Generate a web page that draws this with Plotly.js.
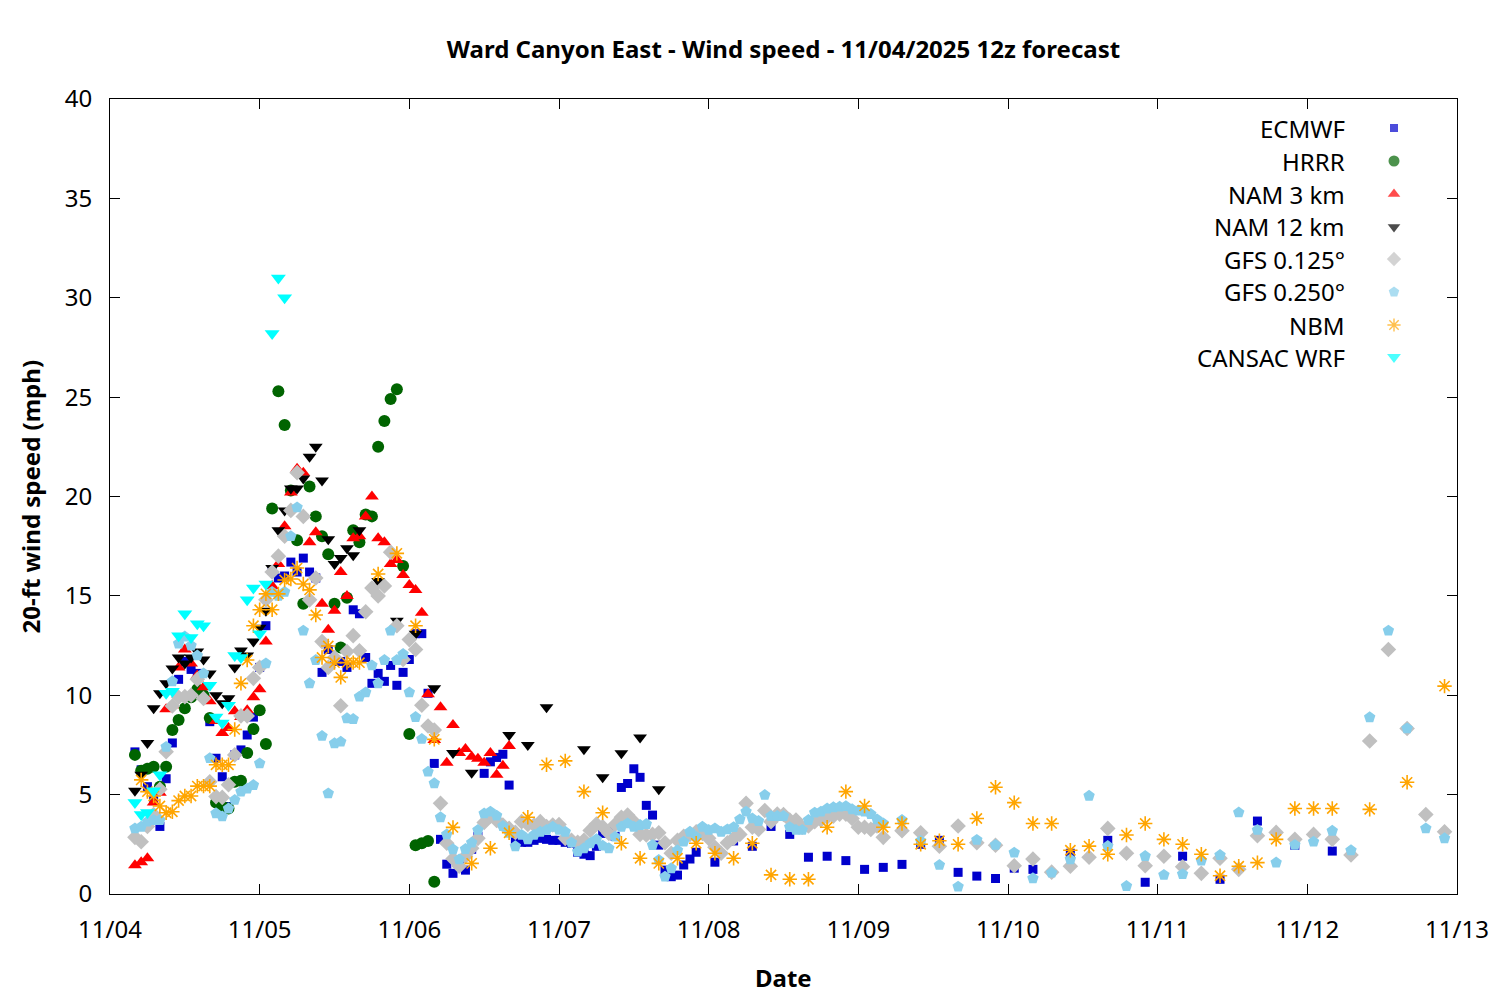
<!DOCTYPE html>
<html>
<head>
<meta charset="utf-8">
<script src="https://cdn.plot.ly/plotly-3.0.1.min.js"></script>
<style>html,body{margin:0;padding:0;background:#fff}#chart{width:1500px;height:1000px}</style>
</head>
<body>
<div id="chart"></div>
<script>
// ---- helpers for forecast valid times (hours after 11/04 00:00 local) ----
function hourSeq(a, b, step) { const r = []; for (let h = a; h <= b; h += step) r.push(h); return r; }
function toDate(h) { const d = new Date(Date.UTC(2025, 10, 4) + h * 3600000); return d.toISOString().slice(0, 19).replace('T', ' '); }

// ---- DATA ----
const seriesNames = ['ECMWF', 'HRRR', 'NAM 3 km', 'NAM 12 km', 'GFS 0.125°', 'GFS 0.250°', 'NBM', 'CANSAC WRF'];
const xTickLabels = ['11/04', '11/05', '11/06', '11/07', '11/08', '11/09', '11/10', '11/11', '11/12', '11/13'];

const ecmwfHours = hourSeq(4, 94, 1).concat(hourSeq(97, 148, 3), hourSeq(154, 196, 6));
const ecmwfSpeed = [
  7.15, 6.25, 5.4, 4.7, 3.4, 5.8, 7.6, 10.8, 11.7, 11.3,
  11.1, 10.0, 8.67, 6.83, 5.9, 4.4, 7.0, 7.25, 8.0, 8.9,
  11.4, 13.5, 16.3, 15.9, 16.0, 16.7, 16.2, 16.9, 16.2, 15.9,
  11.15, 12.3, 11.7, 11.7, 11.4, 14.3, 14.1, 11.9, 10.6, 11.1,
  10.7, 11.5, 10.5, 11.15, 11.8, 13.1, 13.1, 10.1, 6.57, 2.75,
  1.5, 1.04, 1.5, 1.2, 2.25, 2.9, 6.07, 6.65, 6.87, 7.03,
  5.48, 2.75, 2.6, 2.6, 2.7, 2.8, 2.75, 2.7, 2.7, 2.6,
  2.55, 2.1, 2.0, 1.93, 2.4, 3.05, 3.2, 2.9, 5.36, 5.56,
  6.3, 5.87, 4.46, 3.97, 2.46, 1.2, 0.87, 0.95, 1.46, 1.76,
  2.1,
  1.6, 2.67, 2.4, 3.4, 3.0, 1.85, 1.9, 1.68, 1.24, 1.34,
  1.49, 2.5, 2.7, 1.09, 0.9, 0.78, 1.3, 1.24,
  2.05, 2.7, 0.59, 1.9, 0.74, 3.67, 2.45, 2.16
];

const hrrrHours = hourSeq(4, 52, 1);
const hrrrSpeed = [
  7.0, 6.2, 6.3, 6.4, 5.4, 6.4, 8.25, 8.75, 9.35, 9.9,
  10.3, 10.0, 8.85, 4.6, 4.4, 4.3, 5.65, 5.7, 7.1, 8.3,
  9.25, 7.55, 19.4, 25.3, 23.6, 20.3, 17.8, 14.6, 20.5, 19.0,
  18.0, 17.1, 14.6, 12.4, 14.9, 18.3, 17.7, 19.1, 19.0, 22.5,
  23.8, 24.9, 25.4, 16.5, 8.05, 2.45, 2.55, 2.67, 0.62
];

const nam3Hours = hourSeq(4, 64, 1);
const nam3Speed = [
  1.45, 1.6, 1.8, 4.6, 5.1, 9.3, 9.5, 11.4, 12.3, 11.6,
  11.0, 10.4, 9.7, 8.7, 8.1, 8.35, 9.2, 8.9, 9.25, 9.9,
  10.3, 12.7, 15.5, 16.6, 18.5, 20.2, 21.4, 21.2, 17.7, 18.2,
  14.6, 13.3, 14.25, 16.2, 15.0, 17.9, 18.0, 19.0, 20.0, 17.9,
  17.7, 16.6, 16.8, 16.05, 15.55, 15.3, 14.15, 10.05, 7.75, 9.4,
  6.6, 8.5, 7.1, 7.3, 6.9, 6.8, 6.6, 7.1, 6.0, 6.45, 7.45
];

const nam12Hours = hourSeq(4, 40, 1).concat(hourSeq(43, 88, 3));
const nam12Speed = [
  5.2, 6.0, 7.6, 9.35, 10.1, 10.6, 11.35, 11.9, 11.6, 11.9,
  12.2, 11.8, 11.1, 10.0, 9.6, 9.85, 11.4, 12.25, 12.0, 12.7,
  13.4, 14.25, 16.4, 18.3, 19.3, 20.4, 20.4, 20.9, 22.0, 22.5,
  20.8, 17.85, 16.6, 16.9, 17.4, 17.05, 18.3,
  15.75, 13.75, 13.1, 10.35, 7.1, 6.1, null, 8.0, 7.5, 9.4, null, 7.28, 5.87, 7.08, 7.88, 5.27
];

const gfs125Hours = hourSeq(4, 124, 1).concat(hourSeq(127, 214, 3));
const gfs125Speed = [
  2.85, 2.63, 3.4, 4.0, 5.27, 7.16, 9.46, 9.9, 9.93, 10.0,
  10.8, 9.84, 5.65, 4.9, 4.86, 5.5, 7.0, 8.96, 8.96, 10.85,
  11.4, 14.8, 16.2, 17.0, 18.0, 19.3, 21.2, 19.0, 14.8, 15.9,
  12.7, 11.4, 11.9, 9.47, 12.2, 13.0, 12.24, 14.2, 15.4, 15.0,
  15.5, 17.2, 13.5, 11.8, 12.8, 12.3, 9.5, 8.45, 8.25, 4.56,
  2.55, 1.77, 1.4, 1.9, 2.3, 2.8, 3.6, 3.92, 3.7, 3.47,
  3.3, 3.1, 3.64, 3.5, 3.47, 3.64, 3.4, 3.47, 3.5, 2.8,
  2.7, 2.6, 2.7, 3.2, 3.52, 3.38, 3.05, 3.5, 3.86, 3.97,
  3.64, 3.0, 2.97, 3.0, 3.08, 2.58, 2.05, 2.7, 2.9, 3.0,
  3.13, 3.05, 2.8, 2.35, 2.05, 2.58, 2.8, 3.0, 4.56, 3.36,
  3.25, 4.2, 3.64, 4.02, 4.0, 3.72, 3.72, 3.36, 3.42, 3.64,
  3.72, 3.86, 3.92, 4.02, 4.02, 3.8, 3.36, 3.36, 3.25, 3.42,
  2.85,
  3.18, 3.08, 2.4, 3.42, 2.58, 2.45, 1.42, 1.76, 1.1, 1.4,
  1.85, 3.3, 2.05, 1.42, 1.9, 1.37, 1.04, 1.8, 1.24, 2.93,
  3.1, 2.75, 3.0, 2.75, 1.96, 7.7, 12.3, 8.33, 4.0, 3.13
];

const gfs250Hours = hourSeq(4, 124, 1).concat(hourSeq(127, 214, 3));
const gfs250Speed = [
  3.3, 3.38, 3.64, 3.72, 3.72, 7.4, 10.7, 12.6, 12.95, 12.5,
  12.0, 11.1, 6.83, 4.06, 3.9, 4.3, 4.73, 5.15, 5.3, 5.48,
  6.57, 11.6, 15.2, 15.0, 15.2, 18.0, 19.45, 13.25, 10.6, 11.77,
  7.95, 5.06, 7.58, 7.66, 8.84, 8.8, 9.93, 10.14, 11.5, 10.6,
  11.77, 13.25, 11.77, 12.07, 10.14, 8.9, 7.8, 6.15, 5.57, 3.86,
  3.0, 2.25, 1.74, 2.26, 2.58, 3.22, 4.05, 4.14, 3.94, 3.42,
  3.08, 2.4, 2.97, 2.75, 2.97, 3.13, 3.22, 3.38, 3.22, 3.13,
  2.58, 2.13, 2.3, 2.55, 2.75, 2.43, 2.3, 2.88, 3.38, 3.55,
  3.38, 3.47, 3.52, 2.46, 1.71, 0.87, 1.29, 2.2, 2.63, 3.13,
  2.88, 3.38, 3.22, 3.3, 3.13, 3.25, 3.36, 3.75, 4.14, 3.8,
  3.67, 4.98, 3.92, 3.92, 3.92, 3.36, 3.22, 3.22, 3.72, 4.09,
  4.14, 4.3, 4.36, 4.39, 4.42, 4.26, 4.2, 4.14, 4.02, 3.75,
  3.55,
  3.72, 2.67, 1.46, 0.37, 2.72, 2.47, 2.08, 0.79, 1.07, 1.74,
  4.94, 2.41, 0.4, 1.91, 0.96, 1.0, 1.68, 1.96, 4.1, 3.22,
  1.58, 2.47, 2.63, 3.18, 2.2, 8.89, 13.25, 8.33, 3.3, 2.8
];

const nbmHours = hourSeq(5, 40, 1).concat(hourSeq(43, 196, 3), hourSeq(202, 214, 6));
const nbmSpeed = [
  5.74, 5.15, 4.93, 4.43, 4.09, 4.14, 4.7, 4.93, 4.93, 5.43,
  5.43, 5.43, 6.5, 6.5, 6.5, 8.28, 10.6, 11.77, 13.5, 14.3,
  15.1, 14.3, 15.1, 15.8, 15.85, 16.4, 15.6, 15.3, 14.04, 11.9,
  12.48, 11.64, 10.9, 11.64, 11.64, 11.64,
  16.1, 17.14, 13.5, 7.78, 3.35, 1.54, 2.3, 3.08, 3.86, 6.5,
  6.7, 5.15, 4.09, 2.55, 1.8, 1.54, 1.8, 2.55, 2.05, 1.8,
  2.55, 0.96, 0.74, 0.74, 3.36, 5.15, 4.43, 3.36, 3.55, 2.5,
  2.68, 2.5, 3.8, 5.37, 4.6, 3.55, 3.55, 2.2, 2.41, 2.0,
  2.97, 3.55, 2.75, 2.5, 2.0, 0.92, 1.4, 1.58, 2.75, 4.3,
  4.3, 4.3,
  4.26, 5.62, 10.46
];

const cansacHours = hourSeq(4, 28, 1);
const cansacSpeed = [
  4.6, 4.0, 4.1, 5.2, 6.0, 10.1, 10.2, 13.0, 14.1, 12.9,
  13.6, 13.5, 10.5, 8.9, 8.6, 9.5, 12.0, 11.9, 14.8, 15.4,
  13.1, 15.6, 28.2, 31.0, 30.0
];

// ---- styles ----
const FONT = 'Noto Sans, Open Sans, DejaVu Sans, sans-serif';
const FS = 24;
const styles = [
  {symbol: 'square', color: '#0000cc', size: 9},
  {symbol: 'circle', color: '#006400', size: 12},
  {symbol: 'triangle-up', color: '#ff0000', size: 12},
  {symbol: 'triangle-down', color: '#000000', size: 12},
  {symbol: 'diamond', color: '#c0c0c0', size: 12},
  {symbol: 'pentagon', color: '#87ceeb', size: 12},
  {symbol: 'asterisk-open', color: '#ffa500', size: 12},
  {symbol: 'triangle-down', color: '#00ffff', size: 13}
];
const allHours = [ecmwfHours, hrrrHours, nam3Hours, nam12Hours, gfs125Hours, gfs250Hours, nbmHours, cansacHours];
const allSpeed = [ecmwfSpeed, hrrrSpeed, nam3Speed, nam12Speed, gfs125Speed, gfs250Speed, nbmSpeed, cansacSpeed];

const traces = seriesNames.map((name, i) => {
  const s = styles[i];
  const isStar = s.symbol === 'asterisk-open';
  return {
    type: 'scatter', mode: 'markers', name: name,
    x: allHours[i].map(toDate), y: allSpeed[i],
    marker: {symbol: s.symbol, color: s.color, size: s.size,
             line: isStar ? {color: s.color, width: 1.6} : {width: 0}},
    showlegend: false, hoverinfo: 'x+y+name'
  };
});

// ---- legend (gnuplot style: text right-aligned, symbol to its right) ----
const legRowY = [128, 161, 194, 227, 259, 292, 325, 357];
const plotTop = 99, plotBottom = 894, plotLeft = 110, plotRight = 1457;
const py = v => (plotBottom - v) / (plotBottom - plotTop);
const px = v => (v - plotLeft) / (plotRight - plotLeft);
traces.push({
  type: 'scatter', mode: 'markers', xaxis: 'x2', yaxis: 'y2',
  x: seriesNames.map(() => px(1394)), y: legRowY.map(py),
  marker: {symbol: styles.map(s => s.symbol), color: styles.map(s => s.color),
           size: styles.map(s => s.size - 1),
           line: {color: styles.map(s => s.color), width: styles.map(s => s.symbol === 'asterisk-open' ? 1.4 : 0)}},
  showlegend: false, hoverinfo: 'skip'
});
const annotations = seriesNames.map((name, i) => ({
  xref: 'paper', yref: 'paper', x: px(1347), y: py(legRowY[i]),
  xanchor: 'right', yanchor: 'middle', text: name, showarrow: false,
  font: {family: FONT, size: FS, color: '#000'}
}));
annotations.push({xref: 'paper', yref: 'paper', x: 0.5, y: py(977), xanchor: 'center', yanchor: 'middle',
  text: '<b>Date</b>', showarrow: false, font: {family: FONT, size: FS, color: '#000'}});
annotations.push({xref: 'paper', yref: 'paper', x: px(30), y: 0.5, xanchor: 'center', yanchor: 'middle', textangle: -90,
  text: '<b>20-ft wind speed (mph)</b>', showarrow: false, font: {family: FONT, size: FS, color: '#000'}});

const tickDates = xTickLabels.map((_, i) => toDate(i * 24));

const layout = {
  width: 1500, height: 1000,
  margin: {l: plotLeft, r: 1500 - plotRight, t: plotTop, b: 1000 - plotBottom, pad: 0},
  paper_bgcolor: '#fff', plot_bgcolor: '#fff',
  title: {text: '<b>Ward Canyon East - Wind speed - 11/04/2025 12z forecast</b>',
          x: 0.5, xref: 'paper', xanchor: 'center', y: 0.95, yref: 'container', yanchor: 'middle',
          font: {family: FONT, size: FS, color: '#000'}},
  font: {family: FONT, size: FS, color: '#000'},
  xaxis: {type: 'date', range: [toDate(0), toDate(216)], tickvals: tickDates, ticktext: xTickLabels,
          showgrid: false, zeroline: false, showline: true, linecolor: '#000', linewidth: 1, mirror: 'ticks',
          ticks: 'inside', ticklen: 10, tickcolor: '#000', tickwidth: 1, ticklabelstandoff: 14,
          tickfont: {family: FONT, size: FS, color: '#000'}},
  yaxis: {range: [0, 40], tickvals: [0, 5, 10, 15, 20, 25, 30, 35, 40],
          showgrid: false, zeroline: false, showline: true, linecolor: '#000', linewidth: 1, mirror: 'ticks',
          ticks: 'inside', ticklen: 10, tickcolor: '#000', tickwidth: 1, ticklabelstandoff: 12,
          tickfont: {family: FONT, size: FS, color: '#000'}},
  xaxis2: {overlaying: 'x', range: [0, 1], visible: false, fixedrange: true},
  yaxis2: {overlaying: 'y', range: [0, 1], visible: false, fixedrange: true},
  annotations: annotations,
  showlegend: false
};

Plotly.newPlot('chart', traces, layout, {displayModeBar: false, staticPlot: true});
</script>
</body>
</html>
